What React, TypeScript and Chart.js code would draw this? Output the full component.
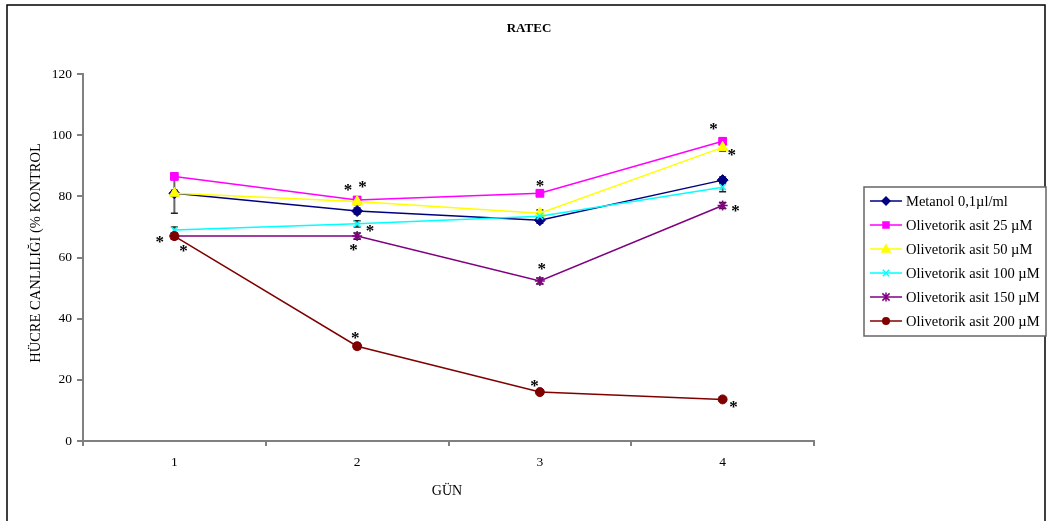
import React, { useEffect, useRef } from "react";
import { Chart, registerables } from "chart.js";

Chart.register(...registerables);

const days = ["1", "2", "3", "4"];
const seriesNames = [
  "Metanol 0,1µl/ml",
  "Olivetorik asit 25 µM",
  "Olivetorik asit 50 µM",
  "Olivetorik asit 100 µM",
  "Olivetorik asit 150 µM",
  "Olivetorik asit 200 µM",
];
const metanol = [81, 75.2, 72.2, 85.3];
const oa25 = [86.5, 78.8, 81, 98];
const oa50 = [81, 78.3, 74.5, 96];
const oa100 = [69, 71, 73.5, 83];
const oa150 = [67, 67, 52.3, 77];
const oa200 = [67, 31, 16, 13.6];

const errMetanol = [6.5, 1, 1, 1];
const err25 = [1, 1, 1, 1];
const err50 = [1, 1, 1, 1.2];
const err100 = [1, 1, 1, 1.5];
const err150 = [1, 1, 1, 1];
const err200 = [1, 1, 0.5, 0.5];

// asterisk annotations (category index, value)
const starX = [-0.08, 0.05, 0.95, 1.03, 1.07, 0.98, 2.0, 2.01, 1.97, 0.99, 2.95, 3.05, 3.07, 3.06];
const starY = [66.3, 63.4, 83.3, 84.3, 69.9, 63.7, 84.6, 57.5, 19.3, 35.0, 103.3, 94.8, 76.5, 12.4];

const colors = ["#000080", "#FF00FF", "#FFFF00", "#00FFFF", "#800080", "#800000"];
const pointStyles = ["rectRot", "rect", "triangle", "crossRot", "star", "circle"];
const pointRadii = [5.5, 5.5, 6, 4.5, 5, 4.5];

const FONT = "'Liberation Serif', 'Times New Roman', serif";

function drawMarker(ctx: CanvasRenderingContext2D, style: string, x: number, y: number, r: number, color: string) {
  ctx.save();
  ctx.fillStyle = color;
  ctx.strokeStyle = color;
  ctx.lineWidth = 1.5;
  ctx.beginPath();
  if (style === "rectRot") {
    ctx.moveTo(x, y - r);
    ctx.lineTo(x + r, y);
    ctx.lineTo(x, y + r);
    ctx.lineTo(x - r, y);
    ctx.closePath();
    ctx.fill();
  } else if (style === "rect") {
    const s = r * 0.75;
    ctx.rect(x - s, y - s, 2 * s, 2 * s);
    ctx.fill();
  } else if (style === "triangle") {
    ctx.moveTo(x, y - r);
    ctx.lineTo(x + r, y + r * 0.7);
    ctx.lineTo(x - r, y + r * 0.7);
    ctx.closePath();
    ctx.fill();
  } else if (style === "crossRot") {
    const s = r * 0.8;
    ctx.moveTo(x - s, y - s);
    ctx.lineTo(x + s, y + s);
    ctx.moveTo(x - s, y + s);
    ctx.lineTo(x + s, y - s);
    ctx.stroke();
  } else if (style === "star") {
    const s = r * 0.8;
    ctx.moveTo(x - s, y - s);
    ctx.lineTo(x + s, y + s);
    ctx.moveTo(x - s, y + s);
    ctx.lineTo(x + s, y - s);
    ctx.moveTo(x, y - r);
    ctx.lineTo(x, y + r);
    ctx.stroke();
  } else {
    ctx.arc(x, y, r, 0, Math.PI * 2);
    ctx.fill();
  }
  ctx.restore();
}

const decorPlugin = {
  id: "decor",
  beforeDatasetsDraw(chart: any) {
    const ctx = chart.ctx as CanvasRenderingContext2D;
    const xs = chart.scales.x;
    const ys = chart.scales.y;
    const all = [metanol, oa25, oa50, oa100, oa150, oa200];
    const errs = [errMetanol, err25, err50, err100, err150, err200];
    ctx.save();
    for (let s = 0; s < all.length; s++) {
      for (let i = 0; i < days.length; i++) {
        const x = xs.getPixelForValue(i);
        const yt = ys.getPixelForValue(all[s][i] + errs[s][i]);
        const yb = ys.getPixelForValue(all[s][i] - errs[s][i]);
        ctx.strokeStyle = "#666666";
        ctx.lineWidth = 2;
        ctx.beginPath();
        ctx.moveTo(x, yt);
        ctx.lineTo(x, yb);
        ctx.stroke();
        ctx.strokeStyle = "#222222";
        ctx.lineWidth = 1.5;
        ctx.beginPath();
        ctx.moveTo(x - 3.5, yt);
        ctx.lineTo(x + 3.5, yt);
        ctx.moveTo(x - 3.5, yb);
        ctx.lineTo(x + 3.5, yb);
        ctx.stroke();
      }
    }
    ctx.restore();
  },
  afterDraw(chart: any) {
    const ctx = chart.ctx as CanvasRenderingContext2D;
    const xs = chart.scales.x;
    const ys = chart.scales.y;
    ctx.save();
    // outer border
    ctx.strokeStyle = "#000000";
    ctx.lineWidth = 1.5;
    ctx.beginPath();
    ctx.moveTo(7, 521);
    ctx.lineTo(7, 5);
    ctx.lineTo(1045, 5);
    ctx.lineTo(1045, 521);
    ctx.stroke();

    // title
    ctx.fillStyle = "#000000";
    ctx.font = `bold 13px ${FONT}`;
    ctx.textAlign = "center";
    ctx.textBaseline = "middle";
    ctx.fillText("RATEC", 529, 29);

    // axis titles
    ctx.font = `14px ${FONT}`;
    ctx.fillText("GÜN", 447, 491);
    ctx.save();
    ctx.translate(36, 253);
    ctx.rotate(-Math.PI / 2);
    ctx.font = `14.5px ${FONT}`;
    ctx.fillText("HÜCRE CANLILIĞI (% KONTROL", 0, 0);
    ctx.restore();

    // asterisks
    ctx.font = `bold 17px ${FONT}`;
    ctx.textAlign = "center";
    ctx.textBaseline = "alphabetic";
    for (let i = 0; i < starX.length; i++) {
      const px = xs.getPixelForValue(starX[i]);
      const py = ys.getPixelForValue(starY[i]);
      ctx.fillText("*", px, py + 9);
    }

    // legend
    const lx = 864, ly = 187, lw = 182, lh = 149;
    ctx.fillStyle = "#ffffff";
    ctx.fillRect(lx, ly, lw, lh);
    ctx.strokeStyle = "#666666";
    ctx.lineWidth = 1.5;
    ctx.strokeRect(lx, ly, lw, lh);
    ctx.font = `14.5px ${FONT}`;
    ctx.textAlign = "left";
    ctx.textBaseline = "middle";
    for (let i = 0; i < seriesNames.length; i++) {
      const cy = ly + 14 + i * 24;
      ctx.strokeStyle = colors[i];
      ctx.lineWidth = 1.5;
      ctx.beginPath();
      ctx.moveTo(lx + 6, cy);
      ctx.lineTo(lx + 38, cy);
      ctx.stroke();
      drawMarker(ctx, pointStyles[i], lx + 22, cy, pointRadii[i] - 0.5, colors[i]);
      ctx.fillStyle = "#000000";
      ctx.fillText(seriesNames[i], lx + 42, cy + 1);
    }
    ctx.restore();
  },
};

export default function App() {
  const ref = useRef<HTMLCanvasElement>(null);
  useEffect(() => {
    if (!ref.current) return;
    const data = [metanol, oa25, oa50, oa100, oa150, oa200];
    const chart = new Chart(ref.current, {
      type: "line",
      data: {
        labels: days,
        datasets: data.map((d, i) => ({
          label: seriesNames[i],
          data: d,
          borderColor: colors[i],
          backgroundColor: colors[i],
          borderWidth: 1.5,
          pointStyle: pointStyles[i] as any,
          pointRadius: pointRadii[i],
          pointBorderWidth: i === 3 || i === 4 ? 1.5 : 1,
          pointBackgroundColor: colors[i],
          pointBorderColor: colors[i],
          tension: 0,
          fill: false,
          order: 5 - i,
        })),
      },
      options: {
        responsive: false,
        animation: false,
        devicePixelRatio: 1,
        layout: { padding: { left: 0, top: 74, right: 234, bottom: 0 } },
        plugins: {
          legend: { display: false },
          title: { display: false },
          tooltip: { enabled: false },
        },
        scales: {
          x: {
            type: "category",
            offset: true,
            afterFit: (s: any) => { s.height = 80; },
            grid: {
              offset: true,
              drawOnChartArea: false,
              drawTicks: true,
              tickLength: 5,
              color: "#808080",
              lineWidth: 2,
            },
            border: { display: true, color: "#808080", width: 2 },
            ticks: {
              color: "#000000",
              font: { family: FONT, size: 13.5 },
              padding: 8,
            },
          },
          y: {
            min: 0,
            max: 120,
            afterFit: (s: any) => { s.width = 83; },
            grid: {
              drawOnChartArea: false,
              drawTicks: true,
              tickLength: 6,
              color: "#808080",
              lineWidth: 2,
            },
            border: { display: true, color: "#808080", width: 2 },
            ticks: {
              stepSize: 20,
              color: "#000000",
              font: { family: FONT, size: 13.5 },
              padding: 5,
            },
          },
        },
      },
      plugins: [decorPlugin],
    });
    return () => chart.destroy();
  }, []);
  return (
    <div style={{ position: "fixed", left: 0, top: 0, width: 1048, height: 521, background: "#fff" }}>
      <canvas ref={ref} width={1048} height={521} style={{ width: 1048, height: 521 }} />
    </div>
  );
}
